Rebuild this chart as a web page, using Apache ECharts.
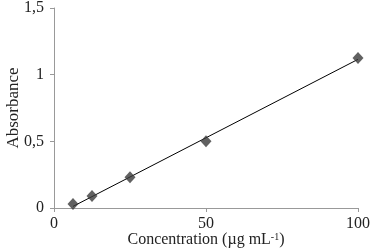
<!DOCTYPE html>
<html><head><meta charset="utf-8">
<script src="https://cdn.jsdelivr.net/npm/echarts@6/dist/echarts.min.js"></script>
<style>html,body{margin:0;padding:0;background:#fff}#c{width:374px;height:251px}</style>
</head><body><div id="c"></div>
<script>
const concentrations = [6.25, 12.5, 25, 50, 100];
const absorbances = [0.03, 0.09, 0.23, 0.5, 1.125];
const trendX = [6.25, 100];
const trendY = [0.012, 1.115];
const xTicks = [0, 50, 100];
const yTicks = [0, 0.5, 1, 1.5];

const chart = echarts.init(document.getElementById('c'));
const font = '"Liberation Serif", "Times New Roman", serif';
chart.setOption({
  animation: false,
  grid: {left: 54, right: 16, top: 8, bottom: 43, outerBoundsMode: 'none', containLabel: false},
  xAxis: {
    type: 'value', min: 0, max: 100, interval: 50,
    name: 'Concentration (µg mL{s|-1})', nameLocation: 'middle', nameGap: 24, nameMoveOverlap: false,
    nameTextStyle: {fontFamily: font, fontSize: 16, color: '#222',
      rich: {s: {fontFamily: font, fontSize: 10, color: '#222', verticalAlign: 'top', padding: [0, 0, 6, 0]}}},
    axisLine: {lineStyle: {color: '#999'}},
    axisTick: {show: true, length: 4, lineStyle: {color: '#999'}},
    axisLabel: {fontFamily: font, fontSize: 16, color: '#222', margin: 8},
    splitLine: {show: false}
  },
  yAxis: {
    type: 'value', min: 0, max: 1.5, interval: 0.5,
    name: 'Absorbance', nameLocation: 'middle', nameGap: 32, nameMoveOverlap: false,
    nameTextStyle: {fontFamily: font, fontSize: 17, color: '#222'},
    axisLine: {show: true, lineStyle: {color: '#999'}},
    axisTick: {show: true, length: 4, lineStyle: {color: '#999'}},
    axisLabel: {fontFamily: font, fontSize: 16, color: '#222', margin: 10,
      formatter: v => String(v).replace('.', ',')},
    splitLine: {show: false}
  },
  series: [
    {type: 'line', data: trendX.map((x, i) => [x, trendY[i]]), symbol: 'none',
     lineStyle: {color: '#000', width: 1}, z: 1},
    {type: 'scatter', data: concentrations.map((x, i) => [x, absorbances[i]]),
     symbol: 'diamond', symbolSize: [11, 12], itemStyle: {color: '#3a3a3a'}, z: 2}
  ]
});
</script></body></html>
